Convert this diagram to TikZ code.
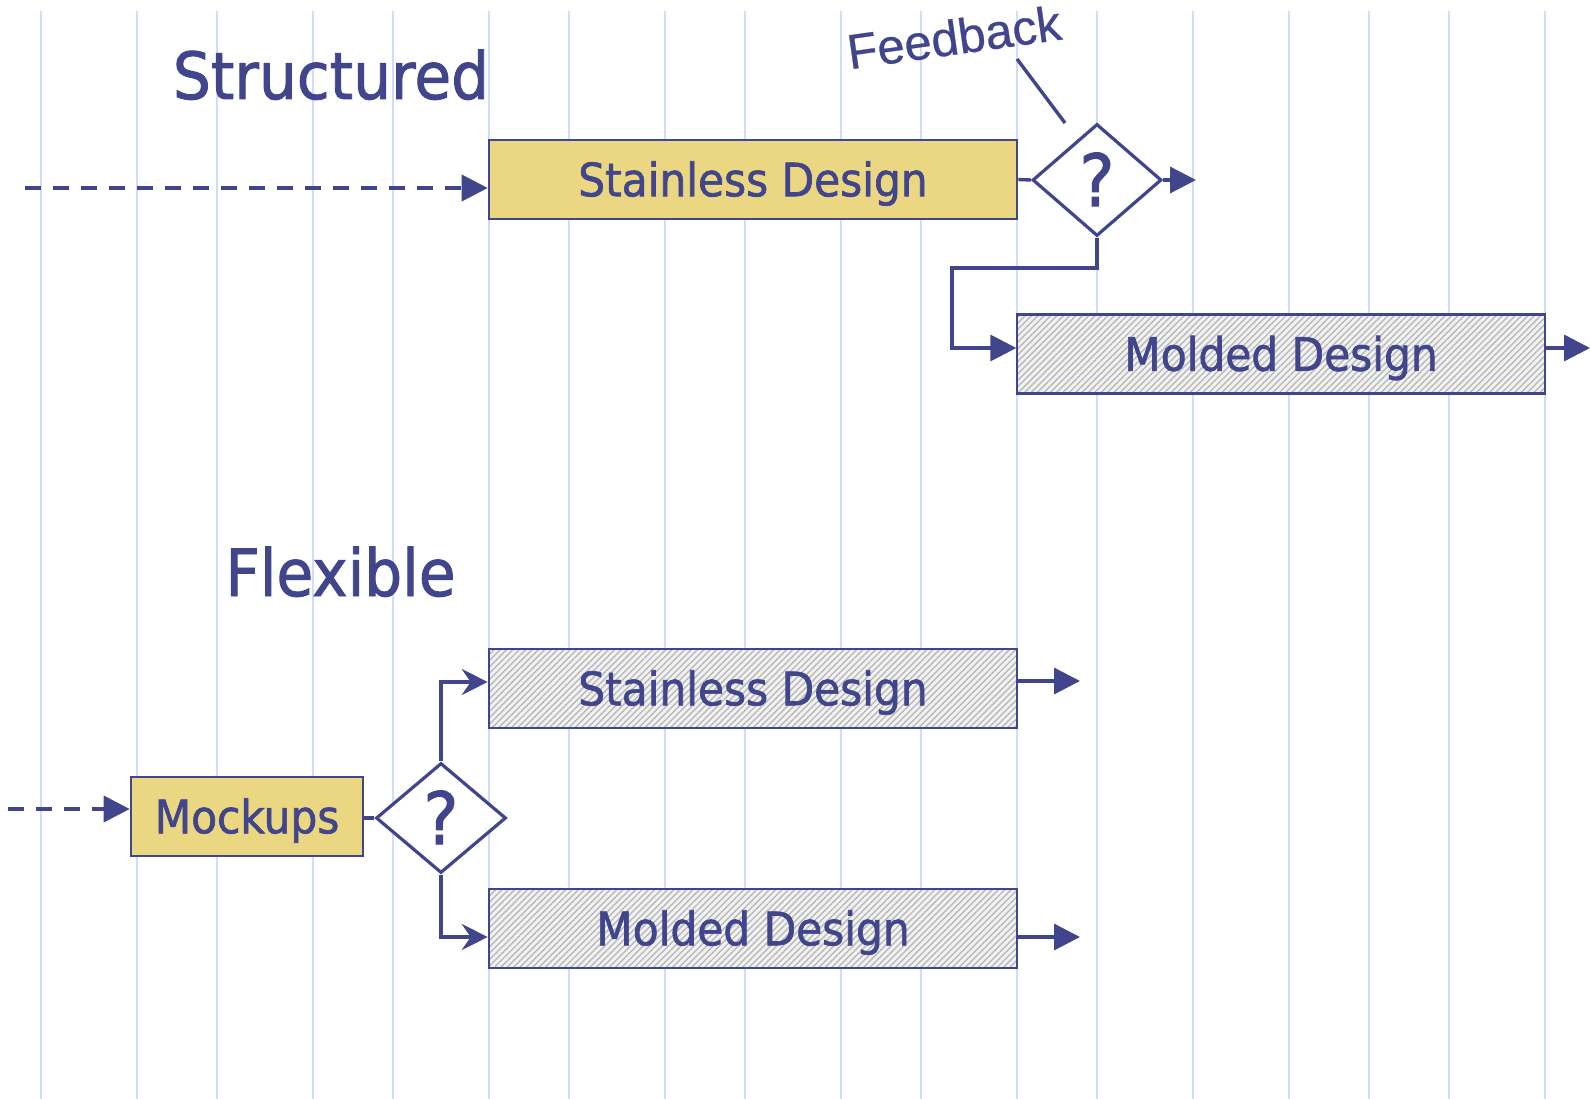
\documentclass[tikz,border=0pt]{standalone}
\usepackage{fontspec}
\usetikzlibrary{shapes.geometric,arrows.meta,patterns.meta}
\newfontfamily\diagfont[FakeStretch=0.92,FakeBold=1.4]{DejaVu Sans}
\newfontfamily\notefont[FakeBold=0.6]{Liberation Sans}
\definecolor{ink}{RGB}{64,69,140}
\definecolor{gridblue}{RGB}{208,220,255}
\definecolor{sand}{RGB}{235,215,130}
\definecolor{hatchbg}{RGB}{242,242,242}
\definecolor{hatchfg}{RGB}{185,185,185}
\begin{document}
\begin{tikzpicture}[x=1pt,y=-1pt,
  gridline/.style={draw=gridblue,line width=2.5pt},
  taskbox/.style={draw=ink,line width=2.6pt,minimum width=528pt,minimum height=79pt,
    inner sep=0pt,text=ink,font=\diagfont\fontsize{46}{50}\selectfont,
    text height=33.5pt,text depth=0pt},
  solidbox/.style={taskbox,fill=sand},
  hatchbox/.style={taskbox,preaction={fill=hatchbg},
    pattern={Lines[angle=45,distance=4.5pt,line width=1.4pt]},pattern color=hatchfg},
  decision/.style={diamond,draw=ink,line width=3.2pt,fill=white,inner sep=0pt,
    minimum width=129pt,minimum height=112pt,text=ink,
    font=\diagfont\fontsize{72}{76}\selectfont,text height=52pt,text depth=0pt},
  title/.style={text=ink,font=\diagfont\fontsize{65}{70}\selectfont,inner sep=0pt},
  conn/.style={draw=ink,line width=3.4pt},
  fillarrow/.style={conn,-{Triangle[length=26pt,width=26pt]}},
  barbarrow/.style={conn,-{Stealth[length=26pt,width=26pt,inset=9pt]}},
  dashline/.style={fillarrow,line width=3.6pt,dash pattern=on 16pt off 12pt}
]
% page and background
\useasboundingbox (0,0) rectangle (1590,1099);
\fill[white] (0,0) rectangle (1590,1099);

% vertical time grid
\foreach \gx in {41,137,217,313,393,489,569,665,745,841,921,1017,1097,1193,1289,1369,1449,1545}
  \draw[gridline] (\gx,11) -- (\gx,1099);

% ---------- structured process ----------
\node[title,anchor=base] (tstruct) at (331,99) {Structured};

\node[solidbox] (sd1) at (753,179.5) {Stainless Design};
\node[decision] (d1) at (1097,180) {?};
\node[hatchbox] (md1) at (1281,354) {Molded Design};

\node[text=ink,font=\notefont\fontsize{49}{52}\selectfont,rotate=8,inner sep=0pt]
  (fb) at (954,37) {Feedback};
\coordinate (fbA) at (1017,59);
\coordinate (fbB) at (1065,123);
\draw[conn] (fbA) -- (fbB);

\coordinate (s1) at (25,188);
\draw[dashline] (s1) -- (s1 -| sd1.west);
\draw[conn] (sd1.east) -- (d1.west);
\coordinate (x1) at (1196,180);
\draw[fillarrow] (d1.east) -- (x1);

\coordinate (k1) at (952,268);
\coordinate (k2) at (952,348);
\draw[fillarrow] (d1.south) |- (k1) -- (k2) -- (k2 -| md1.west);
\coordinate (x2) at (1590,348);
\draw[fillarrow] (x2 -| md1.east) -- (x2);

% ---------- flexible process ----------
\node[title,anchor=base] (tflex) at (340.5,596) {Flexible};

\node[solidbox,minimum width=232pt] (mk) at (247,816.5) {Mockups};
\node[decision,minimum width=130pt,minimum height=110pt] (d2) at (441,818) {?};
\node[hatchbox] (sd2) at (753,688.5) {Stainless Design};
\node[hatchbox] (md2) at (753,928.5) {Molded Design};

\coordinate (s2) at (8,809);
\draw[dashline] (s2) -- (s2 -| mk.west);
\draw[conn] (mk.east |- d2.west) -- (d2.west);

\coordinate (k3) at (441,682);
\coordinate (k4) at (441,937);
\draw[barbarrow] (d2.north) -- (k3) -- (k3 -| sd2.west);
\draw[barbarrow] (d2.south) -- (k4) -- (k4 -| md2.west);

\coordinate (x3) at (1080,681);
\coordinate (x4) at (1080,937);
\draw[fillarrow] (x3 -| sd2.east) -- (x3);
\draw[fillarrow] (x4 -| md2.east) -- (x4);
\end{tikzpicture}
\end{document}
